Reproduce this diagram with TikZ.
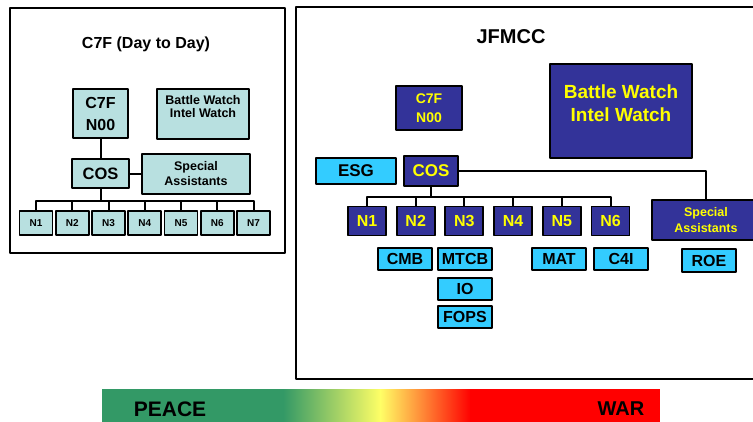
\documentclass[tikz,border=0pt]{standalone}
\usepackage{fontspec}
\setmainfont{Liberation Sans}
\definecolor{paleteal}{HTML}{B8E0E0}
\definecolor{navybox}{HTML}{333399}
\definecolor{skybox}{HTML}{33CCFF}
\definecolor{peacegreen}{HTML}{339966}
\definecolor{midyellow}{HTML}{FFFF66}
\definecolor{textyellow}{HTML}{FFFF00}
\newcommand{\fsz}[2]{\fontsize{#1}{#2}\selectfont\bfseries}
\begin{document}
\begin{tikzpicture}[x=1pt, y=-1pt, font=\bfseries, line join=round,
	frame/.style={draw, line width=2.2pt},
	lbox/.style={draw, line width=1.9pt, fill=paleteal, inner sep=0pt, align=center},
	dbox/.style={draw, line width=1.9pt, fill=navybox, text=textyellow, inner sep=0pt, align=center},
	sbox/.style={draw, line width=1.9pt, fill=skybox, inner sep=0pt, align=center},
	link/.style={line width=2pt}]
	\def\busL{12} \def\busR{10} % drop to the bus
	\useasboundingbox (0,0) rectangle (753,421);
	\clip (0,0) rectangle (753,421);
	\draw[frame] (10,8) rectangle (285,253);
	\draw[frame] (296,7) rectangle (770,379);
	% C7F (Day to Day)
	\node[font=\fsz{16}{19}] (ltitle) at (146,44) {C7F (Day to Day)};
	\node[lbox, minimum width=55, minimum height=49, font=\fsz{16}{22}] (ln00) at (100.5,113.5) {C7F\\N00};
	\node[lbox, minimum width=92, minimum height=50] (lbw) at (203,114) {};
	\node[font=\fsz{12.5}{13.5}, align=center] (lbwtext) at (203,106.5) {Battle Watch\\Intel Watch};
	\node[lbox, minimum width=57, minimum height=29, font=\fsz{16.5}{19}] (lcos) at (100.5,173.5) {COS};
	\node[lbox, minimum width=108, minimum height=40, font=\fsz{12.5}{15}] (lsa) at (196,174) {Special\\Assistants};
	\foreach \i in {1,...,7}
		\node[lbox, minimum width=33, minimum height=24, font=\fsz{10}{11}] (ln\i) at ({36+36.25*(\i-1)},223) {N\i};
	\draw[link] (ln00) -- (lcos);
	\draw[link] (lcos.east) -- (lcos.east -| lsa.west);
	\foreach \i in {1,...,7}
		\draw[link] (lcos.south) -- ++(0,\busL) -| (ln\i.north);
	% JFMCC
	\node[font=\fsz{20}{24}] (rtitle) at (511,37) {JFMCC};
	\node[dbox, minimum width=66, minimum height=44, font=\fsz{14}{19}] (rn00) at (429,108) {C7F\\N00};
	\node[dbox, minimum width=142, minimum height=94] (rbw) at (621,111) {};
	\node[text=textyellow, font=\fsz{19}{23}, align=center] (rbwtext) at (621,103.5) {Battle Watch\\Intel Watch};
	\node[sbox, minimum width=80, minimum height=26, font=\fsz{17}{20}] (esg) at (356,171) {ESG};
	\node[dbox, minimum width=54, minimum height=30, font=\fsz{17}{20}] (rcos) at (431,171) {COS};
	\node[dbox, minimum width=108, minimum height=40, font=\fsz{12.5}{16}] (rsa) at (706,220) {Special\\Assistants};
	\foreach \i in {1,...,6}
		\node[dbox, minimum width=38, minimum height=29, font=\fsz{16}{19}] (rn\i) at ({367+48.7*(\i-1)},221) {N\i};
	\node[sbox, minimum width=54, minimum height=22, font=\fsz{16}{19}] (cmb) at (405,259) {CMB};
	\node[sbox, minimum width=54, minimum height=22, font=\fsz{16}{19}] (mtcb) at (465,259) {MTCB};
	\node[sbox, minimum width=54, minimum height=22, font=\fsz{16}{19}] (io) at (465,289) {IO};
	\node[sbox, minimum width=54, minimum height=22, font=\fsz{16}{19}] (fops) at (465,317) {FOPS};
	\node[sbox, minimum width=54, minimum height=22, font=\fsz{16}{19}] (mat) at (559,259) {MAT};
	\node[sbox, minimum width=54, minimum height=22, font=\fsz{16}{19}] (cfouri) at (621,259) {C4I};
	\node[sbox, minimum width=54, minimum height=23, font=\fsz{16}{19}] (roe) at (709,260.5) {ROE};
	\foreach \i in {1,...,6}
		\draw[link] (rcos.south) -- ++(0,\busR) -| (rn\i.north);
	\draw[link] (rcos.east) -| (rsa.north);
	% peace -- war bar
	\fill[peacegreen] (102,389) rectangle (284,425);
	\shade[left color=peacegreen, right color=midyellow] (283,389) rectangle (381,425);
	\shade[left color=midyellow, right color=red] (380,389) rectangle (471,425);
	\fill[red] (470,389) rectangle (660,425);
	\node[font=\fsz{21}{24}] (peace) at (170,409) {PEACE};
	\node[font=\fsz{20}{24}] (war) at (621,409) {WAR};
\end{tikzpicture}
\end{document}
